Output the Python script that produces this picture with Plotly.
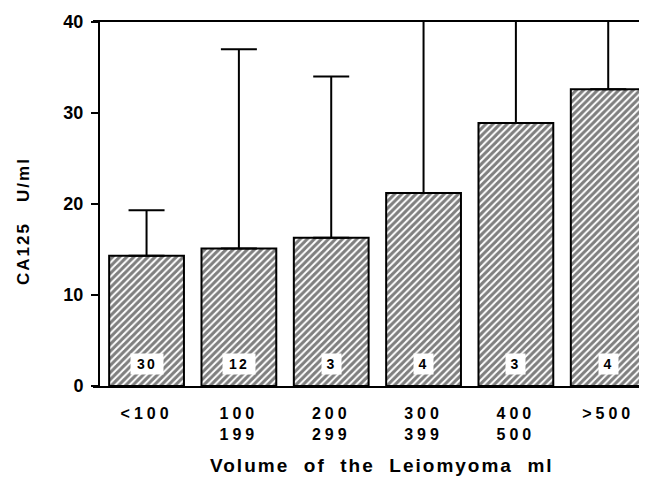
import plotly.graph_objects as go

# ---- data ----
categories = ["<100", "100<br>199", "200<br>299", "300<br>399", "400<br>500", ">500"]
mean_ca125 = [14.3, 15.1, 16.3, 21.2, 28.9, 32.6]
sd_upper = [5.0, 21.9, 17.7, 22.0, 14.0, 10.0]   # last three run off the top of the axis
n_counts = [30, 12, 3, 4, 3, 4]
y_ticks = [0, 10, 20, 30, 40]

FONT = "Liberation Sans, Arial, Helvetica, sans-serif"
x_idx = list(range(len(categories)))

# page body has an 8px margin, so the figure starts at (8, 8)
L, T, PW, PH = 85, 14, 554, 364

fig = go.Figure()
fig.add_trace(go.Bar(
    x=x_idx, y=mean_ca125, width=0.81,
    marker=dict(color="white",
                line=dict(color="black", width=2),
                pattern=dict(shape="/", fgcolor="black", bgcolor="white",
                             size=5, solidity=0.6)),
    error_y=dict(type="data", array=sd_upper, arrayminus=[0] * len(sd_upper),
                 symmetric=False, color="black", thickness=2, width=18),
    showlegend=False,
))

annotations = []
for i, n in enumerate(n_counts):
    txt = str(n)
    annotations.append(dict(
        x=i, y=0, xref="x", yref="y", text="<b>%s</b>" % txt, showarrow=False,
        yanchor="bottom", yshift=11, bgcolor="white", borderpad=2,
        width=13 * len(txt) + 2,
        font=dict(family=FONT, size=14, color="black")))

annotations.append(dict(
    text="<b>CA125\u00a0\u00a0\u00a0U/ml</b>", textangle=-90, showarrow=False,
    xref="paper", yref="paper", x=(23 - 93) / PW, y=(386 - 221) / PH,
    xanchor="center", yanchor="middle",
    font=dict(family=FONT, size=17, color="black")))
annotations.append(dict(
    text="<b>Volume\u00a0\u00a0of\u00a0\u00a0the\u00a0\u00a0Leiomyoma\u00a0\u00a0ml</b>", showarrow=False,
    xref="paper", yref="paper", x=(382 - 93) / PW, y=(386 - 465) / PH,
    xanchor="center", yanchor="middle",
    font=dict(family=FONT, size=19, color="black")))

fig.update_layout(
    width=L + PW, height=T + PH + 97,
    margin=dict(l=L, r=0, t=T, b=97, pad=0),
    paper_bgcolor="white", plot_bgcolor="white",
    font=dict(family=FONT, color="black"),
    annotations=annotations,
    xaxis=dict(
        range=[-0.58, 5.42], tickmode="array", tickvals=x_idx, ticktext=categories,
        showgrid=False, zeroline=False, showline=True, linecolor="black", linewidth=2,
        mirror=True, ticks="", ticklabelstandoff=12,
        tickfont=dict(family=FONT, size=16, color="black", weight="bold"),
    ),
    yaxis=dict(
        range=[0, 40], tickmode="array", tickvals=y_ticks,
        showgrid=False, zeroline=False, showline=True, linecolor="black", linewidth=2,
        anchor="free", position=6 / PW,
        ticks="outside", ticklen=7, tickwidth=2, tickcolor="black",
        ticklabelstandoff=4,
        tickfont=dict(family=FONT, size=18, color="black", weight="bold"),
    ),
)

post = """
var s=document.createElement('style');
s.textContent='.xtick text{letter-spacing:4px} .annotation text{letter-spacing:2px}';
document.head.appendChild(s);
"""
fig.write_html("out.html", post_script=post)
